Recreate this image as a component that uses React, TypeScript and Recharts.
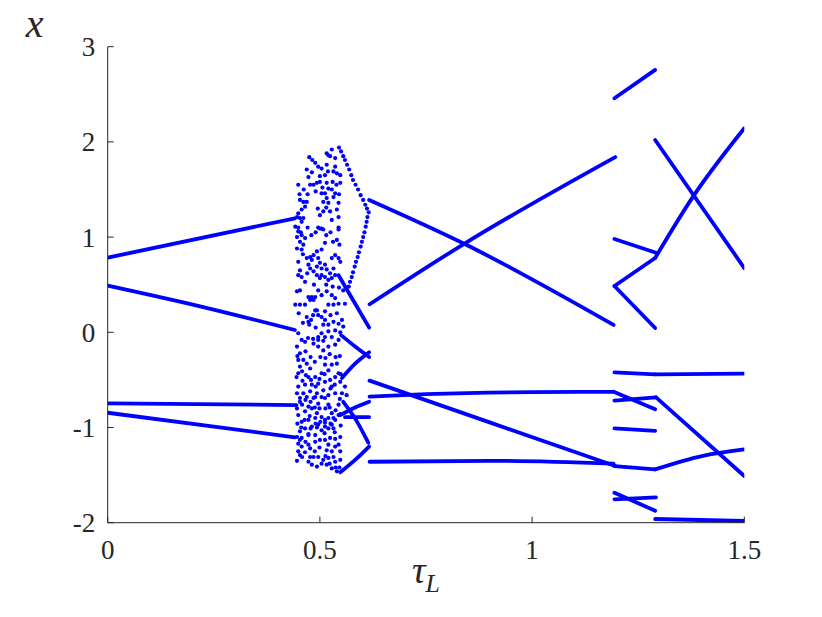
import { ComposedChart, Line, Scatter, XAxis, YAxis } from "recharts";

type Pair = [number, number];

const BLUE = "#0000ff";
const INK = "#262626";
const SERIF = "Liberation Serif";

const tauTicks = [0, 0.5, 1, 1.5];
const xTicks = [-2, -1, 0, 1, 2, 3];

// period-4 orbit before the chaotic band
const pre1: Pair[] = [[0, 0.784], [0.441, 1.197]];
const pre2: Pair[] = [[0, 0.49], [0.22, 0.27], [0.441, 0.024]];
const pre3: Pair[] = [[0, -0.746], [0.445, -0.764]];
const pre4: Pair[] = [[0, -0.845], [0.441, -1.103]];

// periodic window at the right end of the chaotic band
const win1: Pair[] = [[0.544, 0.6], [0.578, 0.34], [0.616, 0.05]];
const win2: Pair[] = [[0.55, -0.03], [0.583, -0.15], [0.616, -0.26]];
const win3: Pair[] = [[0.552, -0.48], [0.583, -0.33], [0.616, -0.21]];
const win4: Pair[] = [[0.548, -0.87], [0.583, -0.79], [0.616, -0.73]];
const win5: Pair[] = [[0.559, -0.89], [0.616, -0.89]];
const win6: Pair[] = [[0.555, -0.73], [0.585, -0.92], [0.614, -1.16]];
const win7: Pair[] = [[0.548, -1.47], [0.583, -1.34], [0.616, -1.2]];

// 0.62 .. 1.2
const midE: Pair[] = [[0.616, 1.39], [0.84, 0.93], [1.192, 0.077]];
const midF: Pair[] = [[0.617, 0.294], [0.84, 0.93], [1.196, 1.84]];
const midG: Pair[] = [[0.617, -0.508], [0.9, -0.946], [1.196, -1.405]];
const midH: Pair[] = [[0.617, -0.675], [0.75, -0.65], [1.0, -0.628], [1.192, -0.625]];
const midI: Pair[] = [[0.617, -1.36], [0.9, -1.35], [1.192, -1.38]];

// 1.2 .. 1.29
const winA: Pair[] = [[1.194, 2.458], [1.29, 2.756]];
const winB: Pair[] = [[1.194, 0.98], [1.292, 0.836]];
const winC: Pair[] = [[1.194, 0.486], [1.29, 0.781]];
const winD: Pair[] = [[1.194, 0.486], [1.29, 0.045]];
const winE: Pair[] = [[1.194, -0.42], [1.29, -0.441]];
const winF: Pair[] = [[1.192, -0.625], [1.29, -0.809]];
const winG: Pair[] = [[1.194, -0.718], [1.292, -0.683]];
const winH: Pair[] = [[1.194, -1.01], [1.29, -1.035]];
const winI: Pair[] = [[1.194, -1.405], [1.29, -1.44]];
const winJ: Pair[] = [[1.194, -1.685], [1.29, -1.874]];
const winK: Pair[] = [[1.194, -1.754], [1.292, -1.733]];

// 1.29 .. 1.5
const endA: Pair[] = [[1.29, 2.02], [1.5, 0.675]];
const endB: Pair[] = [[1.29, 0.781], [1.38, 1.43], [1.5, 2.143]];
const endC: Pair[] = [[1.29, -0.441], [1.5, -0.435]];
const endD: Pair[] = [[1.292, -0.683], [1.5, -1.509]];
const endE: Pair[] = [[1.29, -1.44], [1.4, -1.3], [1.5, -1.23]];
const endF: Pair[] = [[1.29, -1.961], [1.5, -1.982]];

const chaosTop: Pair[] = [
  [0.475, 1.84], [0.482, 1.81], [0.489, 1.78], [0.496, 1.74],
  [0.52, 1.86], [0.528, 1.92], [0.524, 1.85], [0.516, 1.76], [0.504, 1.72], [0.5, 1.64],
  [0.512, 1.65], [0.519, 1.69], [0.536, 1.74], [0.54, 1.67], [0.548, 1.65], [0.532, 1.69],
  [0.469, 1.71], [0.449, 1.55], [0.473, 1.63], [0.477, 1.55], [0.485, 1.55], [0.493, 1.57],
  [0.5, 1.58], [0.516, 1.57], [0.52, 1.51], [0.512, 1.46], [0.504, 1.46], [0.528, 1.5],
  [0.536, 1.46], [0.532, 1.42], [0.516, 1.41], [0.508, 1.37], [0.52, 1.36], [0.548, 1.57],
  [0.544, 1.36], [0.54, 1.29], [0.524, 1.27], [0.508, 1.27], [0.5, 1.23], [0.528, 1.18],
  [0.544, 1.21], [0.453, 1.39], [0.461, 1.37], [0.469, 1.37], [0.465, 1.32], [0.457, 1.29],
  [0.449, 1.25], [0.446, 1.21], [0.453, 1.2], [0.457, 1.16], [0.461, 1.2], [0.449, 1.1],
  [0.496, 1.1], [0.504, 1.09], [0.544, 1.1], [0.516, 1.88], [0.536, 1.83],
  [0.452, 1.45], [0.462, 1.5], [0.471, 1.45], [0.481, 1.68], [0.49, 1.48], [0.495, 1.3],
  [0.506, 1.52], [0.515, 1.31], [0.53, 1.58], [0.539, 1.55], [0.545, 1.45],
];
const chaosUpper: Pair[] = [
  [0.442, 1.11], [0.449, 1.06], [0.446, 1.0], [0.457, 1.02], [0.465, 0.99], [0.453, 0.95],
  [0.446, 0.88], [0.457, 0.87], [0.461, 0.92], [0.5, 1.09], [0.508, 1.08], [0.544, 1.08],
  [0.54, 0.97], [0.512, 0.94], [0.504, 0.87], [0.493, 0.85], [0.485, 0.81], [0.477, 0.79],
  [0.469, 0.78], [0.481, 0.76], [0.496, 0.78], [0.5, 0.73], [0.493, 0.69], [0.504, 0.67],
  [0.512, 0.71], [0.516, 0.66], [0.524, 0.62], [0.528, 0.78], [0.536, 0.81], [0.544, 0.78],
  [0.548, 0.74], [0.532, 0.67], [0.536, 0.6], [0.528, 0.57], [0.52, 0.55], [0.512, 0.58],
  [0.504, 0.6], [0.473, 0.71], [0.477, 0.67], [0.485, 0.64], [0.493, 0.6], [0.5, 0.57],
  [0.449, 0.74], [0.453, 0.65], [0.449, 0.6], [0.457, 0.58], [0.465, 0.53], [0.453, 0.44],
  [0.446, 0.43], [0.496, 0.44], [0.504, 0.39], [0.489, 0.37], [0.481, 0.37], [0.473, 0.37],
  [0.477, 0.34], [0.485, 0.34], [0.516, 0.43], [0.528, 0.39], [0.536, 0.36], [0.52, 0.29],
  [0.532, 0.29], [0.544, 0.3], [0.559, 0.3], [0.442, 0.29], [0.453, 0.29], [0.465, 0.29],
  [0.493, 0.23], [0.496, 0.18], [0.512, 0.22], [0.555, 0.44],
  [0.455, 1.05], [0.471, 1.1], [0.48, 1.02], [0.49, 1.05], [0.515, 1.02], [0.525, 1.05],
  [0.531, 0.95], [0.546, 0.92], [0.46, 0.82], [0.47, 0.62], [0.486, 0.5], [0.515, 0.5],
  [0.53, 0.48], [0.545, 0.47], [0.45, 0.2], [0.46, 0.1], [0.49, 0.05], [0.525, 0.18],
  [0.54, 0.2], [0.548, 0.0],
];
const chaosLower: Pair[] = [
  [0.489, 0.23], [0.484, 0.18], [0.479, 0.13], [0.475, 0.08],
  [0.469, 0.16], [0.473, 0.11], [0.504, 0.16], [0.512, 0.13], [0.508, 0.08], [0.52, 0.08],
  [0.532, 0.11], [0.544, 0.09], [0.552, 0.13], [0.555, 0.06], [0.536, 0.02], [0.52, 0.01],
  [0.504, -0.01], [0.496, -0.05], [0.512, -0.05], [0.528, -0.05], [0.544, -0.08], [0.536, -0.13],
  [0.52, -0.15], [0.508, -0.19], [0.496, -0.15], [0.485, -0.12], [0.465, -0.1], [0.457, -0.08],
  [0.449, -0.01], [0.446, -0.15], [0.453, -0.22], [0.449, -0.29], [0.453, -0.36], [0.449, -0.43],
  [0.461, -0.29], [0.469, -0.33], [0.477, -0.38], [0.473, -0.47], [0.489, -0.47], [0.504, -0.43],
  [0.52, -0.4], [0.512, -0.34], [0.528, -0.34], [0.54, -0.33], [0.544, -0.43], [0.536, -0.47],
  [0.524, -0.5], [0.512, -0.52], [0.496, -0.54], [0.481, -0.55], [0.465, -0.55], [0.449, -0.57],
  [0.446, -0.64], [0.461, -0.64], [0.477, -0.62], [0.493, -0.64], [0.508, -0.61], [0.528, -0.57],
  [0.548, -0.52], [0.559, -0.57], [0.563, -0.66], [0.552, -0.64], [0.536, -0.64], [0.52, -0.66],
  [0.504, -0.68], [0.485, -0.69], [0.469, -0.68], [0.453, -0.69],
  [0.472, -0.06], [0.484, -0.07], [0.496, -0.08], [0.508, -0.09],
  [0.447, -0.25], [0.445, -0.47], [0.458, -0.41], [0.459, -0.51], [0.466, -0.2], [0.467, -0.45],
  [0.478, -0.26], [0.479, -0.5], [0.488, -0.31], [0.49, -0.57], [0.501, -0.26], [0.499, -0.49],
  [0.513, -0.27], [0.511, -0.44], [0.523, -0.23], [0.525, -0.59], [0.537, -0.26], [0.535, -0.55],
  [0.549, -0.44], [0.547, -0.25],
];
const chaosBottom: Pair[] = [
  [0.489, -0.68], [0.512, -0.69], [0.496, -0.75], [0.52, -0.76], [0.544, -0.76], [0.481, -0.8],
  [0.465, -0.83], [0.449, -0.87], [0.457, -0.94], [0.473, -0.92], [0.489, -0.9], [0.504, -0.89],
  [0.52, -0.9], [0.536, -0.92], [0.544, -0.87], [0.528, -0.85], [0.496, -0.97], [0.512, -0.99],
  [0.528, -0.97], [0.481, -0.99], [0.465, -1.01], [0.453, -1.04], [0.446, -1.1], [0.457, -1.11],
  [0.473, -1.08], [0.489, -1.08], [0.504, -1.03], [0.52, -1.01], [0.449, -1.17], [0.457, -1.2],
  [0.473, -1.18], [0.453, -1.29], [0.449, -1.25], [0.52, -1.18], [0.536, -1.2], [0.544, -1.18],
  [0.516, -1.24], [0.528, -1.25], [0.532, -1.31], [0.52, -1.32], [0.508, -1.34], [0.496, -1.31],
  [0.485, -1.31], [0.477, -1.31], [0.473, -1.36], [0.481, -1.39], [0.493, -1.41], [0.504, -1.38],
  [0.516, -1.39], [0.528, -1.43], [0.54, -1.46], [0.536, -1.36], [0.548, -1.34],
  [0.453, -0.73], [0.473, -0.78], [0.493, -0.85], [0.512, -0.92], [0.532, -1.01], [0.548, -1.1],
  [0.453, -1.13], [0.473, -1.07], [0.493, -1.0], [0.512, -0.95], [0.532, -0.9], [0.548, -0.86],
  [0.446, -0.8], [0.447, -0.96], [0.446, -1.35], [0.458, -0.76], [0.456, -1.0], [0.458, -1.31],
  [0.466, -0.71], [0.464, -0.92], [0.466, -1.15], [0.465, -1.26], [0.478, -0.73], [0.476, -0.88],
  [0.478, -1.01], [0.477, -1.22], [0.488, -0.79], [0.49, -0.96], [0.489, -1.15], [0.488, -1.25],
  [0.499, -0.8], [0.501, -0.94], [0.5, -1.13], [0.499, -1.21], [0.513, -0.8], [0.511, -1.06],
  [0.512, -1.13], [0.513, -1.3], [0.523, -0.79], [0.525, -0.96], [0.524, -1.11], [0.523, -1.38],
  [0.537, -0.82], [0.535, -1.05], [0.536, -1.12], [0.537, -1.42], [0.547, -0.7], [0.549, -0.98],
  [0.548, -1.25], [0.546, -1.42],
];
// dotted arcs bounding the band on the right
const arcUpper: Pair[] = [
  [0.545, 1.94], [0.55, 1.9], [0.555, 1.85], [0.559, 1.81], [0.564, 1.76], [0.569, 1.71],
  [0.574, 1.65], [0.578, 1.6], [0.584, 1.55], [0.59, 1.5], [0.596, 1.44], [0.602, 1.39],
  [0.607, 1.34], [0.611, 1.3], [0.615, 1.26],
];
const arcLower: Pair[] = [
  [0.612, 1.21], [0.61, 1.16], [0.608, 1.11], [0.605, 1.05], [0.602, 1.0], [0.599, 0.95],
  [0.596, 0.9], [0.592, 0.84], [0.589, 0.79], [0.585, 0.74], [0.582, 0.69], [0.578, 0.63],
  [0.575, 0.58], [0.571, 0.53], [0.568, 0.48],
];

const branches: Pair[][] = [
  pre1, pre2, pre3, pre4,
  win1, win2, win3, win4, win5, win6, win7,
  midE, midF, midG, midH, midI,
  winA, winB, winC, winD, winE, winF, winG, winH, winI, winJ, winK,
  endA, endB, endC, endD, endE, endF,
];
const dotSets: Pair[][] = [chaosTop, chaosUpper, chaosLower, chaosBottom, arcUpper, arcLower];

const toPts = (pairs: Pair[]) => pairs.map(([t, x]) => ({ t, x }));

const W = 822;
const H = 617;
const YAXIS_W = 60;
const XAXIS_H = 40;

const dot = (p: any) => <circle cx={p.cx} cy={p.cy} r={2.1} fill={BLUE} />;

const tickStyle = { fontFamily: SERIF, fontSize: 27, fill: INK };

export default function App() {
  return (
    <div style={{ position: "absolute", left: 0, top: 0, width: W, height: H, background: "#fff" }}>
      <ComposedChart
        width={W}
        height={H}
        margin={{ top: 46.7, right: 77.7, bottom: 617 - 522.7 - XAXIS_H, left: 107.7 - YAXIS_W }}
      >
        <XAxis
          type="number"
          dataKey="t"
          domain={[0, 1.5]}
          ticks={tauTicks}
          interval={0}
          height={XAXIS_H}
          allowDataOverflow
          tickSize={-6}
          tickMargin={23}
          tick={tickStyle}
          tickFormatter={(v) => String(v)}
          stroke={INK}
          label={{
            content: (p: any) => {
              const vb = p.viewBox;
              return (
                <text
                  x={vb.x + vb.width / 2}
                  y={vb.y + 60}
                  textAnchor="middle"
                  fontFamily={SERIF}
                  fontStyle="italic"
                  fontSize={38}
                  fill={INK}
                >
                  τ
                  <tspan fontSize={26} dy={9}>
                    L
                  </tspan>
                </text>
              );
            },
          }}
        />
        <YAxis
          type="number"
          dataKey="x"
          domain={[-2, 3]}
          ticks={xTicks}
          interval={0}
          width={YAXIS_W}
          allowDataOverflow
          tickSize={-6}
          tickMargin={18.5}
          tick={tickStyle}
          tickFormatter={(v) => String(v)}
          stroke={INK}
          label={{
            content: (p: any) => {
              const vb = p.viewBox;
              return (
                <text
                  x={vb.x - 22}
                  y={vb.y - 10}
                  fontFamily={SERIF}
                  fontStyle="italic"
                  fontSize={40}
                  fill={INK}
                >
                  x
                </text>
              );
            },
          }}
        />
        {branches.map((b, i) => (
          <Line
            key={"b" + i}
            data={toPts(b)}
            dataKey="x"
            type={b.length > 2 ? "monotone" : "linear"}
            stroke={BLUE}
            strokeWidth={3.8}
            strokeLinecap="round"
            dot={false}
            activeDot={false}
            isAnimationActive={false}
          />
        ))}
        {dotSets.map((d, i) => (
          <Scatter
            key={"d" + i}
            data={toPts(d)}
            dataKey="x"
            fill={BLUE}
            shape={dot}
            isAnimationActive={false}
          />
        ))}
      </ComposedChart>
    </div>
  );
}
